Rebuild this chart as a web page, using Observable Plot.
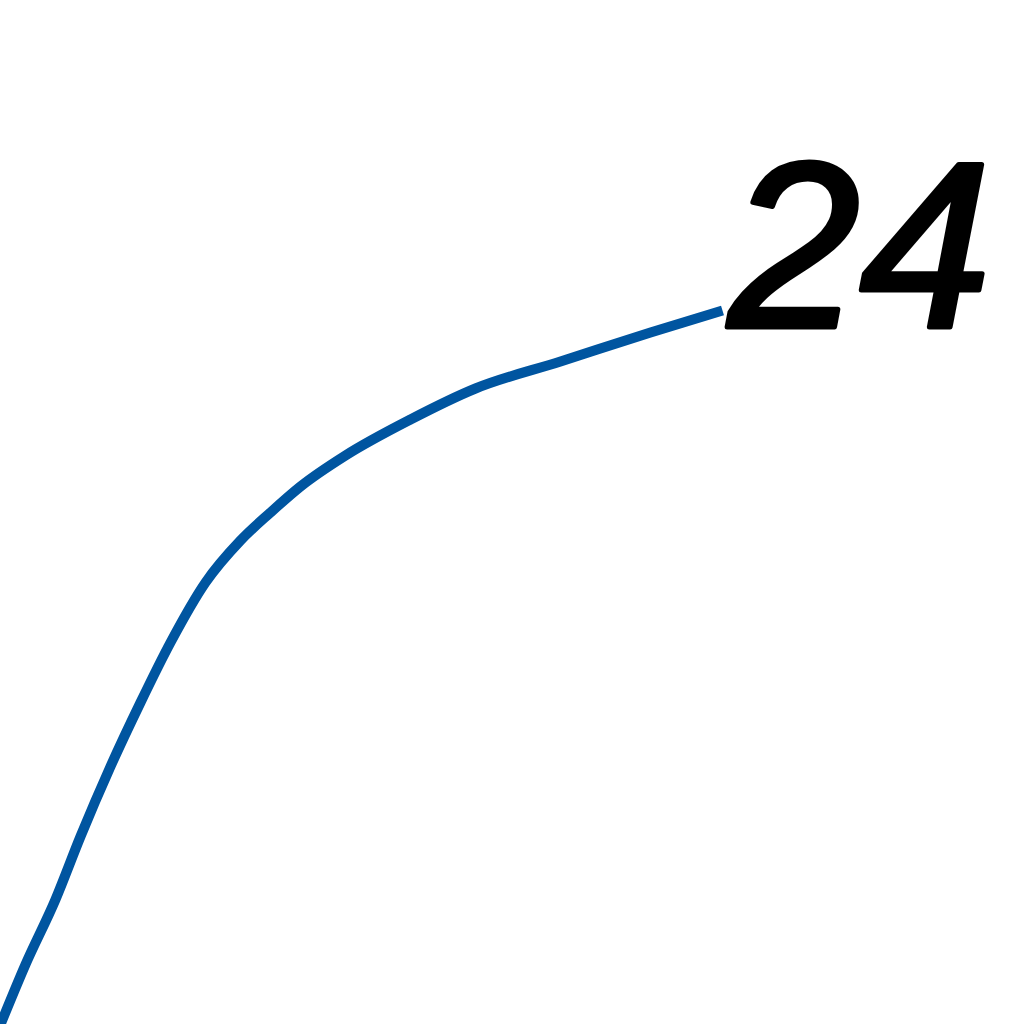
<!DOCTYPE html>
<html>
<head>
<meta charset="utf-8">
<script src="https://cdn.jsdelivr.net/npm/d3@7"></script>
<script src="https://cdn.jsdelivr.net/npm/@observablehq/plot@0.6"></script>
<style>
  html, body { margin: 0; padding: 0; background: #fff; }
  #chart svg { display: block; }
</style>
</head>
<body>
<div id="chart"></div>
<script>
// Curve positions (x along the axis, value measured upward)
const xs = [0, 25, 55, 80, 110, 140, 170, 205, 240, 270, 300, 345, 410, 475, 560, 650, 722];
const values = [0, 60, 125, 188, 258, 322, 382, 442, 484, 512, 538, 569, 605, 636, 663, 692, 714];
const labels = ["24"];

const data = xs.map((x, i) => ({x, value: values[i]}));
const last = data[data.length - 1];
const labelData = [{x: last.x, value: last.value, text: labels[0]}];

const chart = Plot.plot({
  width: 1024,
  height: 1024,
  margin: 0,
  x: {domain: [0, 1024], axis: null},
  y: {domain: [0, 1024], axis: null},
  marks: [
    Plot.line(data, {x: "x", y: "value", stroke: "#0055a0", strokeWidth: 10, curve: "monotone-x", strokeLinecap: "butt"}),
    Plot.text(labelData, {
      x: "x", y: "value", text: "text",
      textAnchor: "start", lineAnchor: "bottom",
      dx: 6, dy: 16,
      fontSize: 236, fontWeight: "normal", fontStyle: "italic",
      fontFamily: "Liberation Sans, Arial, sans-serif",
      fill: "#000", stroke: "#000", strokeWidth: 5
    })
  ]
});
document.getElementById("chart").appendChild(chart);
</script>
</body>
</html>
